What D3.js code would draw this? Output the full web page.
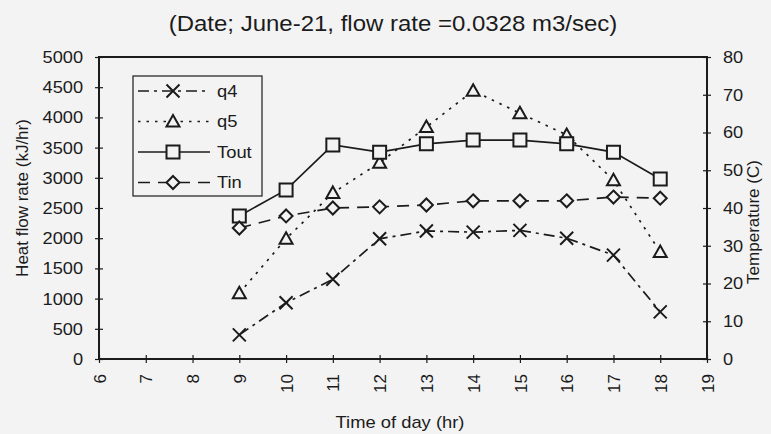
<!DOCTYPE html>
<html>
<head>
<meta charset="utf-8">
<script src="https://cdn.jsdelivr.net/npm/d3@7"></script>
<style>
  html, body { margin: 0; padding: 0; background: #f3f3f3; }
  svg { display: block; font-family: "Liberation Sans", Arial, sans-serif; }
</style>
</head>
<body>
<svg id="chart" width="771" height="434"></svg>
<script>
// Hourly measurements, June-21
const hours = [9, 10, 11, 12, 13, 14, 15, 16, 17, 18];
const q4 = [400, 930, 1320, 1990, 2120, 2100, 2130, 2000, 1720, 780];        // kJ/hr
const q5 = [1090, 1990, 2750, 3250, 3840, 4440, 4070, 3710, 2960, 1770];     // kJ/hr
const tOut = [37.9, 44.8, 56.7, 54.8, 57.0, 58.0, 58.0, 57.0, 54.8, 47.7];   // C
const tIn = [34.7, 37.9, 40.0, 40.3, 40.8, 41.9, 41.9, 41.9, 42.9, 42.6];    // C

const xTicks = [6, 7, 8, 9, 10, 11, 12, 13, 14, 15, 16, 17, 18, 19];
const heatTicks = [0, 500, 1000, 1500, 2000, 2500, 3000, 3500, 4000, 4500, 5000];
const tempTicks = [0, 10, 20, 30, 40, 50, 60, 70, 80];

const titleText = "(Date; June-21, flow rate =0.0328 m3/sec)";
const xTitle = "Time of day (hr)";
const yLeftTitle = "Heat flow rate (kJ/hr)";
const yRightTitle = "Temperature (C)";

const ink = "#1b1b1b";
const bg = "#f3f3f3";
const plotLeft = 99, plotRight = 707, plotTop = 57, plotBottom = 359;

const svg = d3.select("#chart");
svg.append("rect").attr("width", 771).attr("height", 434).attr("fill", bg);

const x = d3.scaleLinear().domain([6, 19]).range([plotLeft, plotRight]);
const yHeat = d3.scaleLinear().domain([0, 5000]).range([plotBottom, plotTop]);
const yTemp = d3.scaleLinear().domain([0, 80]).range([plotBottom, plotTop]);

// slightly wide lettering, as in the printed figure
function widen(sel, k) {
  sel.each(function () {
    const len = this.getComputedTextLength();
    d3.select(this).attr("textLength", len * k).attr("lengthAdjust", "spacingAndGlyphs");
  });
  return sel;
}

// Title
widen(svg.append("text")
  .attr("x", 393).attr("y", 31)
  .attr("text-anchor", "middle")
  .attr("font-size", 22).attr("fill", ink)
  .text(titleText), 1.09);

// Axes
const intFmt = d3.format("d");
const axisLeft = d3.axisLeft(yHeat).tickValues(heatTicks).tickFormat(intFmt)
  .tickSizeInner(4).tickSizeOuter(0).tickPadding(12);
const axisRight = d3.axisRight(yTemp).tickValues(tempTicks).tickFormat(intFmt)
  .tickSizeInner(4).tickSizeOuter(0).tickPadding(12);
const axisBottom = d3.axisBottom(x).tickValues(xTicks).tickFormat(intFmt)
  .tickSizeInner(4).tickSizeOuter(0);

function styleAxis(g) {
  g.select(".domain").remove();
  g.selectAll(".tick line").attr("stroke", ink).attr("stroke-width", 1.2);
  g.selectAll(".tick text").attr("fill", ink).attr("font-size", 17)
    .attr("font-family", "Liberation Sans, Arial, sans-serif");
}

const gl = svg.append("g").attr("transform", `translate(${plotLeft},0)`).call(axisLeft).call(styleAxis);
gl.selectAll(".tick line").attr("x2", 4).attr("x1", -4);
widen(gl.selectAll(".tick text"), 1.07);

const gr = svg.append("g").attr("transform", `translate(${plotRight},0)`).call(axisRight).call(styleAxis);
gr.selectAll(".tick line").attr("x1", -4).attr("x2", 4);
widen(gr.selectAll(".tick text"), 1.07);

const gb = svg.append("g").attr("transform", `translate(0,${plotBottom})`).call(axisBottom).call(styleAxis);
gb.selectAll(".tick line").attr("y1", -4).attr("y2", 4);
gb.selectAll(".tick text")
  .attr("transform", "rotate(-90)")
  .attr("text-anchor", "end")
  .attr("x", -15).attr("y", 0).attr("dy", "0.36em");

// Plot frame
svg.append("rect")
  .attr("x", plotLeft).attr("y", plotTop)
  .attr("width", plotRight - plotLeft).attr("height", plotBottom - plotTop)
  .attr("fill", "none").attr("stroke", ink).attr("stroke-width", 2);

// Axis titles
widen(svg.append("text")
  .attr("x", 400).attr("y", 428)
  .attr("text-anchor", "middle").attr("font-size", 17).attr("fill", ink)
  .text(xTitle), 1.08);

svg.append("text")
  .attr("transform", `translate(28,${(plotTop + plotBottom) / 2 - 10}) rotate(-90)`)
  .attr("text-anchor", "middle").attr("font-size", 17).attr("fill", ink)
  .text(yLeftTitle);

svg.append("text")
  .attr("transform", `translate(759,${(plotTop + plotBottom) / 2 + 14}) rotate(-90)`)
  .attr("text-anchor", "middle").attr("font-size", 17).attr("fill", ink)
  .text(yRightTitle);

// Marker shapes
const markers = {
  cross: "M-6.5,-6.5L6.5,6.5M-6.5,6.5L6.5,-6.5",
  triangle: "M0,-6.5L6.5,5L-6.5,5Z",
  square: "M-6.5,-6.5H6.5V6.5H-6.5Z",
  diamond: "M0,-6.5L6.5,0L0,6.5L-6.5,0Z"
};

const series = [
  { name: "q4", values: q4, y: yHeat, dash: "11,5,3,5", marker: "cross" },
  { name: "q5", values: q5, y: yHeat, dash: "2.5,6", marker: "triangle" },
  { name: "Tout", values: tOut, y: yTemp, dash: null, marker: "square" },
  { name: "Tin", values: tIn, y: yTemp, dash: "12,8", marker: "diamond" }
];

const plot = svg.append("g");

series.forEach(s => {
  const line = d3.line().x((d, i) => x(hours[i])).y(d => s.y(d));
  plot.append("path")
    .attr("d", line(s.values))
    .attr("fill", "none").attr("stroke", ink).attr("stroke-width", 1.7)
    .attr("stroke-dasharray", s.dash);
});

series.forEach(s => {
  plot.selectAll(null).data(s.values).enter().append("path")
    .attr("d", markers[s.marker])
    .attr("transform", (d, i) => `translate(${x(hours[i])},${s.y(d)})`)
    .attr("fill", s.marker === "cross" ? "none" : bg)
    .attr("stroke", ink).attr("stroke-width", 2);
});

// Legend
const lg = svg.append("g");
lg.append("rect")
  .attr("x", 133).attr("y", 76).attr("width", 129).attr("height", 120)
  .attr("fill", bg).attr("stroke", ink).attr("stroke-width", 1.2);

series.forEach((s, i) => {
  const cy = 91 + i * 30.5;
  lg.append("line")
    .attr("x1", 138).attr("x2", 210).attr("y1", cy).attr("y2", cy)
    .attr("stroke", ink).attr("stroke-width", 1.7)
    .attr("stroke-dasharray", s.dash);
  lg.append("path")
    .attr("d", markers[s.marker])
    .attr("transform", `translate(173,${cy})`)
    .attr("fill", s.marker === "cross" ? "none" : bg)
    .attr("stroke", ink).attr("stroke-width", 2);
  widen(lg.append("text")
    .attr("x", 217).attr("y", cy).attr("dy", "0.35em")
    .attr("font-size", 17).attr("fill", ink)
    .text(s.name), 1.08);
});
</script>
</body>
</html>
